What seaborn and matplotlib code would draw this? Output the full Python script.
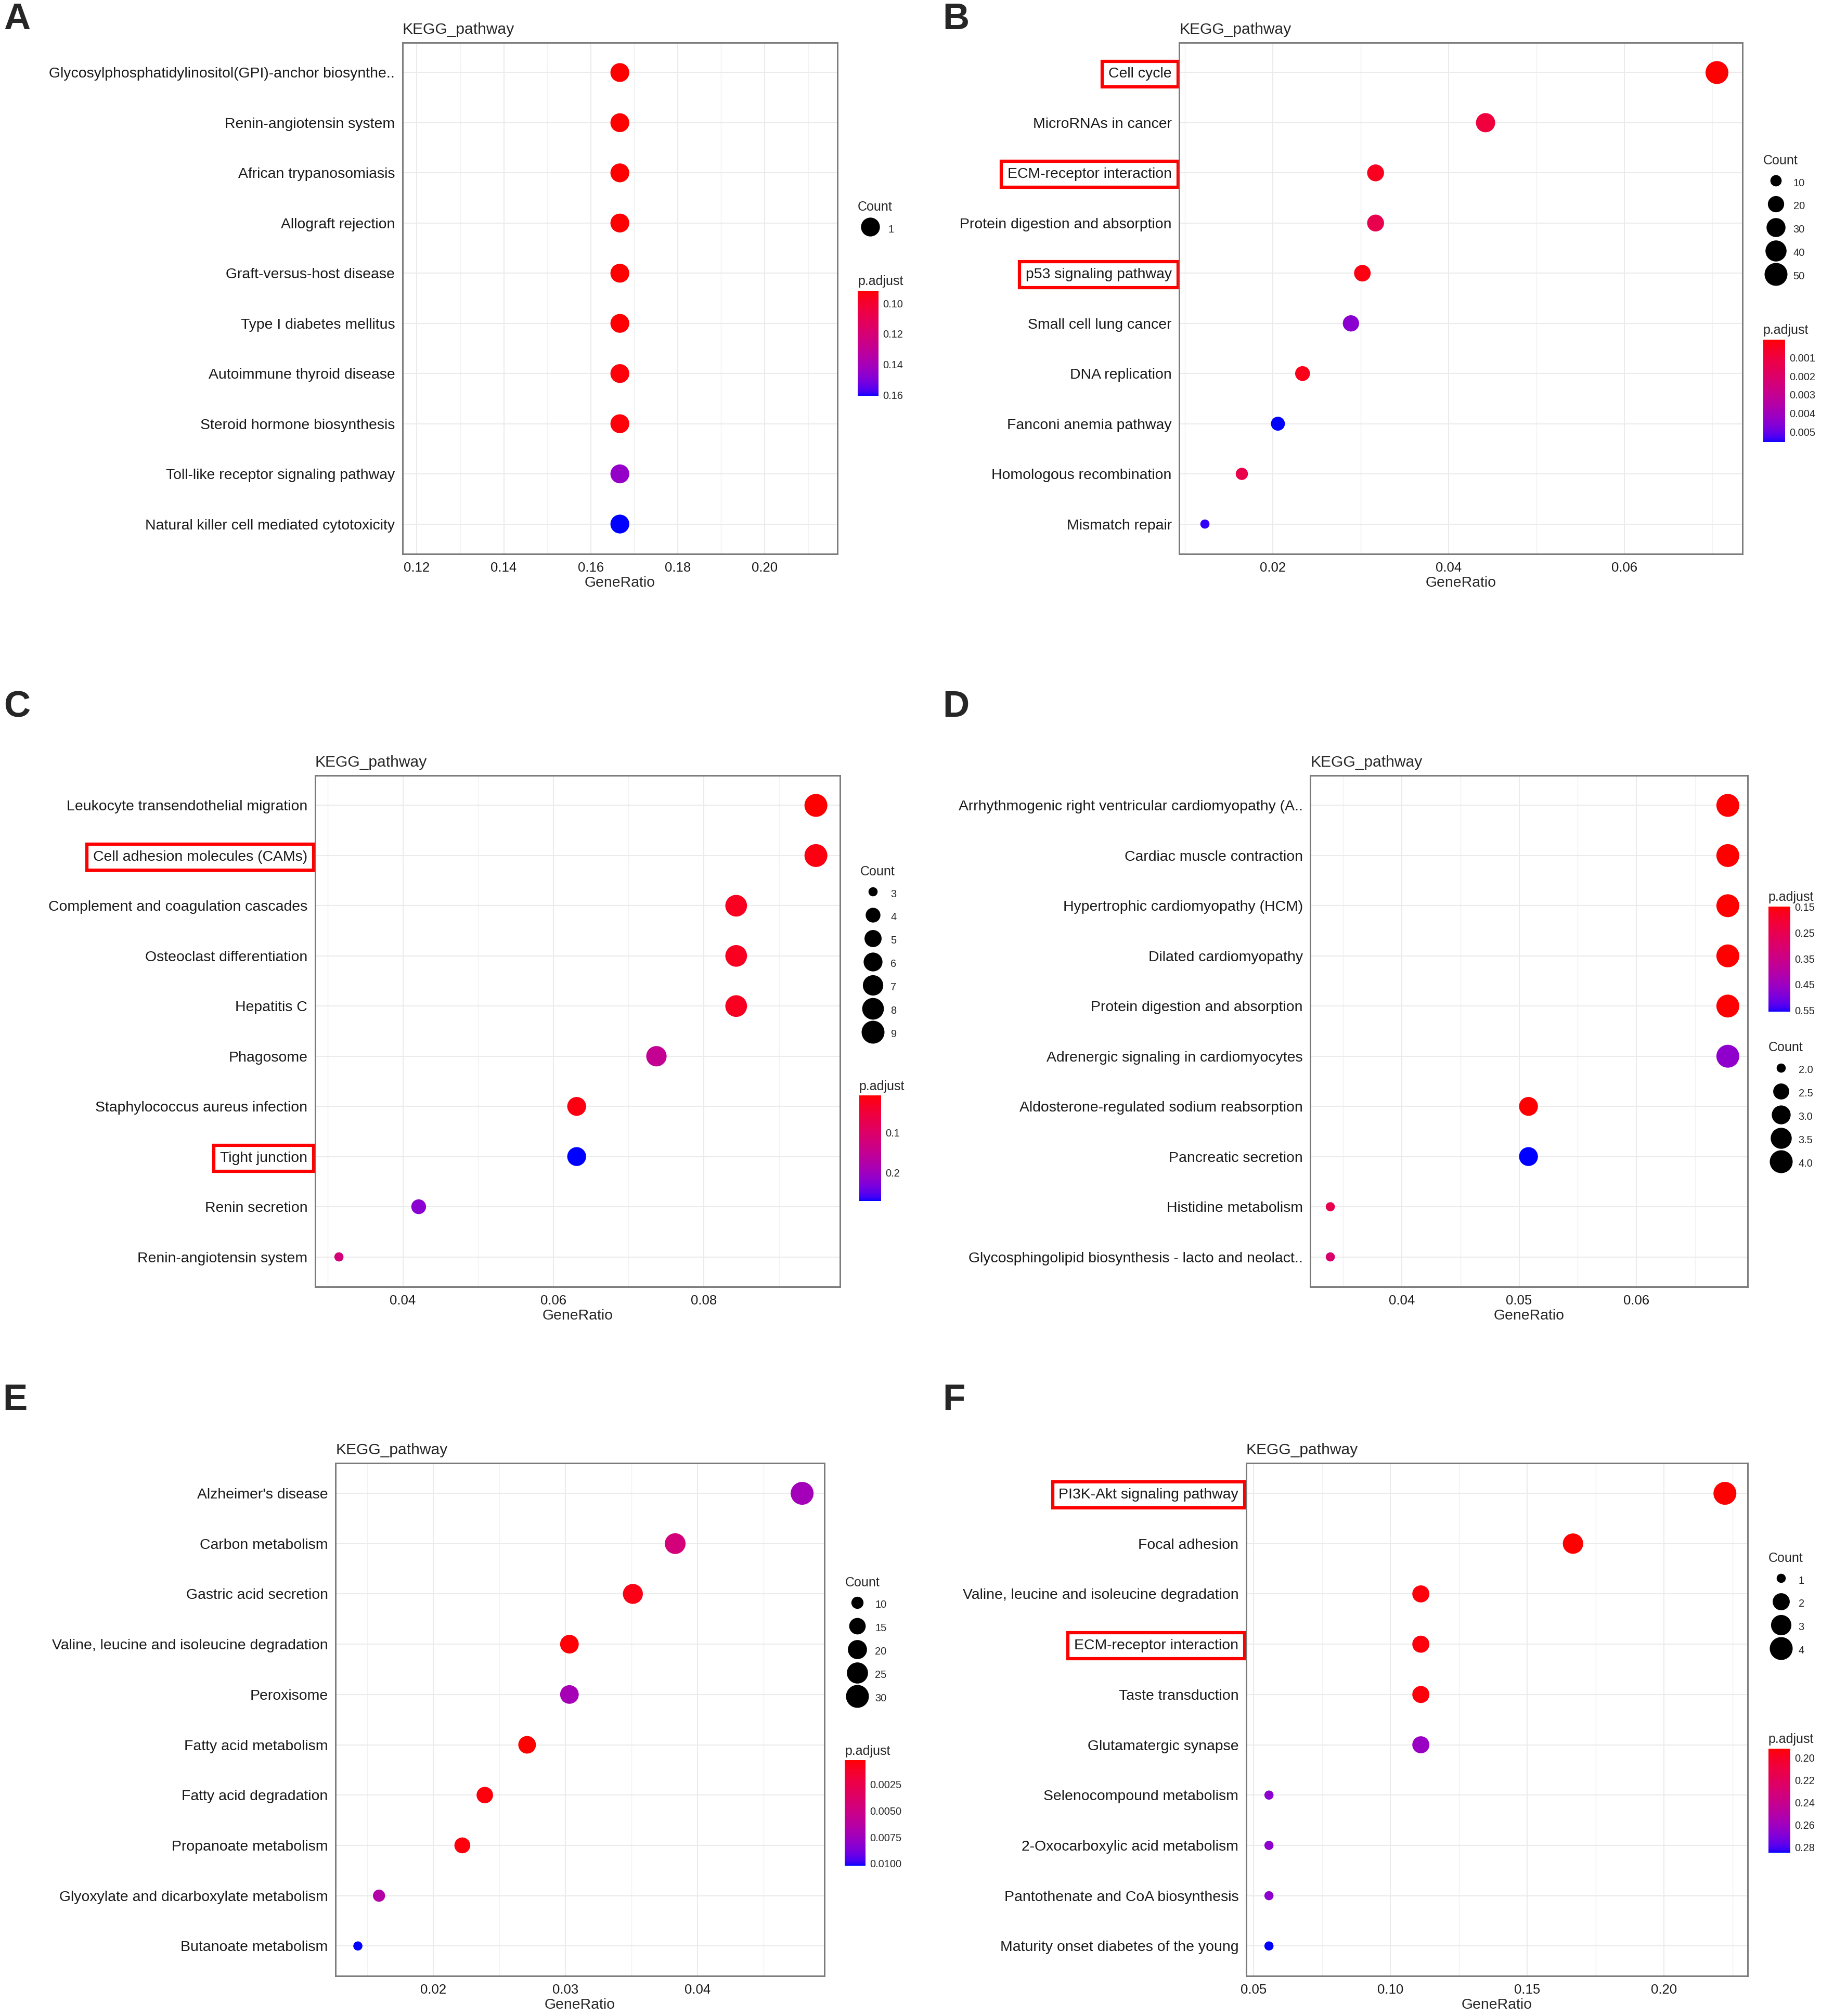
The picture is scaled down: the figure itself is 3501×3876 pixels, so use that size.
import numpy as np
import pandas as pd
import matplotlib
matplotlib.use("Agg")
import matplotlib.pyplot as plt
import seaborn as sns
from matplotlib.colors import ListedColormap, Normalize
from matplotlib.lines import Line2D
from matplotlib.cm import ScalarMappable
from matplotlib.ticker import MultipleLocator

# ---------------- data ----------------
terms_a = ["Glycosylphosphatidylinositol(GPI)-anchor biosynthe..", "Renin-angiotensin system",
           "African trypanosomiasis", "Allograft rejection", "Graft-versus-host disease",
           "Type I diabetes mellitus", "Autoimmune thyroid disease", "Steroid hormone biosynthesis",
           "Toll-like receptor signaling pathway", "Natural killer cell mediated cytotoxicity"]
ratio_a = [0.1667, 0.1667, 0.1667, 0.1667, 0.1667, 0.1667, 0.1667, 0.1667, 0.1667, 0.1667]
count_a = [1, 1, 1, 1, 1, 1, 1, 1, 1, 1]
padj_a = [0.0916, 0.0916, 0.0918, 0.0918, 0.0918, 0.0920, 0.0928, 0.0928, 0.1450, 0.1608]

terms_b = ["Cell cycle", "MicroRNAs in cancer", "ECM-receptor interaction",
           "Protein digestion and absorption", "p53 signaling pathway", "Small cell lung cancer",
           "DNA replication", "Fanconi anemia pathway", "Homologous recombination", "Mismatch repair"]
ratio_b = [0.0705, 0.0442, 0.0317, 0.0317, 0.0302, 0.0289, 0.0234, 0.0206, 0.0165, 0.0123]
count_b = [50, 31, 22, 22, 21, 20, 16, 14, 11, 9]
padj_b = [0.00003, 0.0010, 0.0004, 0.0014, 0.0002, 0.0045, 0.0003, 0.00555, 0.0013, 0.0054]

terms_c = ["Leukocyte transendothelial migration", "Cell adhesion molecules (CAMs)",
           "Complement and coagulation cascades", "Osteoclast differentiation", "Hepatitis C",
           "Phagosome", "Staphylococcus aureus infection", "Tight junction", "Renin secretion",
           "Renin-angiotensin system"]
ratio_c = [0.0949, 0.0949, 0.0843, 0.0843, 0.0843, 0.0737, 0.0631, 0.0631, 0.0421, 0.0315]
count_c = [9, 9, 8, 8, 8, 7, 6, 6, 4, 3]
padj_c = [0.0065, 0.015, 0.025, 0.025, 0.025, 0.150, 0.015, 0.271, 0.220, 0.120]

terms_d = ["Arrhythmogenic right ventricular cardiomyopathy (A..", "Cardiac muscle contraction",
           "Hypertrophic cardiomyopathy (HCM)", "Dilated cardiomyopathy",
           "Protein digestion and absorption", "Adrenergic signaling in cardiomyocytes",
           "Aldosterone-regulated sodium reabsorption", "Pancreatic secretion",
           "Histidine metabolism", "Glycosphingolipid biosynthesis - lacto and neolact.."]
ratio_d = [0.0678, 0.0678, 0.0678, 0.0678, 0.0678, 0.0678, 0.0508, 0.0508, 0.0339, 0.0339]
count_d = [4, 4, 4, 4, 4, 4, 3, 3, 2, 2]
padj_d = [0.148, 0.148, 0.149, 0.149, 0.150, 0.470, 0.150, 0.556, 0.250, 0.300]

terms_e = ["Alzheimer's disease", "Carbon metabolism", "Gastric acid secretion",
           "Valine, leucine and isoleucine degradation", "Peroxisome", "Fatty acid metabolism",
           "Fatty acid degradation", "Propanoate metabolism",
           "Glyoxylate and dicarboxylate metabolism", "Butanoate metabolism"]
ratio_e = [0.0479, 0.0383, 0.0351, 0.0303, 0.0303, 0.0271, 0.0239, 0.0222, 0.0159, 0.0143]
count_e = [30, 24, 22, 19, 19, 17, 15, 14, 10, 9]
padj_e = [0.0073, 0.0045, 0.0006, 0.0003, 0.0072, 0.0002, 0.0004, 0.0004, 0.0065, 0.0102]

terms_f = ["PI3K-Akt signaling pathway", "Focal adhesion",
           "Valine, leucine and isoleucine degradation", "ECM-receptor interaction",
           "Taste transduction", "Glutamatergic synapse", "Selenocompound metabolism",
           "2-Oxocarboxylic acid metabolism", "Pantothenate and CoA biosynthesis",
           "Maturity onset diabetes of the young"]
ratio_f = [0.2222, 0.1667, 0.1111, 0.1111, 0.1111, 0.1111, 0.0556, 0.0556, 0.0556, 0.0556]
count_f = [4, 3, 2, 2, 2, 2, 1, 1, 1, 1]
padj_f = [0.192, 0.192, 0.194, 0.194, 0.194, 0.262, 0.266, 0.266, 0.266, 0.285]

count_breaks = {"A": [1], "B": [10, 20, 30, 40, 50], "C": [3, 4, 5, 6, 7, 8, 9],
                "D": [2.0, 2.5, 3.0, 3.5, 4.0], "E": [10, 15, 20, 25, 30], "F": [1, 2, 3, 4]}
padj_ticks = {"A": ([0.10, 0.12, 0.14, 0.16], "%.2f"),
              "B": ([0.001, 0.002, 0.003, 0.004, 0.005], "%.3f"),
              "C": ([0.1, 0.2], "%.1f"),
              "D": ([0.15, 0.25, 0.35, 0.45, 0.55], "%.2f"),
              "E": ([0.0025, 0.0050, 0.0075, 0.0100], "%.4f"),
              "F": ([0.20, 0.22, 0.24, 0.26, 0.28], "%.2f")}
boxed = {"B": ["Cell cycle", "ECM-receptor interaction", "p53 signaling pathway"],
         "C": ["Cell adhesion molecules (CAMs)", "Tight junction"],
         "F": ["PI3K-Akt signaling pathway", "ECM-receptor interaction"]}


# ---------------- helpers ----------------
def lab_gradient(c0, c1, n=256):
    # ggplot-like red -> blue gradient interpolated in CIE Lab
    M = np.array([[0.4124, 0.3576, 0.1805], [0.2126, 0.7152, 0.0722], [0.0193, 0.1192, 0.9505]])
    white = np.array([0.95047, 1.0, 1.08883])

    def to_lab(rgb):
        rgb = np.asarray(rgb, float)
        lin = np.where(rgb <= 0.04045, rgb / 12.92, ((rgb + 0.055) / 1.055) ** 2.4)
        xyz = M @ lin / white
        f = np.where(xyz > 0.008856, np.cbrt(xyz), 7.787 * xyz + 16 / 116)
        return np.array([116 * f[1] - 16, 500 * (f[0] - f[1]), 200 * (f[1] - f[2])])

    def to_rgb(lab):
        fy = (lab[0] + 16) / 116
        f = np.array([fy + lab[1] / 500, fy, fy - lab[2] / 200])
        xyz = np.where(f ** 3 > 0.008856, f ** 3, (f - 16 / 116) / 7.787) * white
        lin = np.clip(np.linalg.solve(M, xyz), 0, None)
        rgb = np.where(lin <= 0.0031308, 12.92 * lin, 1.055 * lin ** (1 / 2.4) - 0.055)
        return np.clip(rgb, 0, 1)

    l0, l1 = to_lab(c0), to_lab(c1)
    return ListedColormap([to_rgb(l0 + (l1 - l0) * t) for t in np.linspace(0, 1, n)])


cmap = lab_gradient([1, 0, 0], [0, 0, 1])


def dot_diam(c, cmin, cmax):
    # clusterProfiler dotplot: scale_size(range = c(3, 8)), area scaling
    t = 0.5 if cmax == cmin else (c - cmin) / (cmax - cmin)
    s = 3 + 5 * np.sqrt(t)
    return (s * 2.845 + 0.94) * 0.4456


W, H = 1416.0, 1568.0


def frect(x0, y0, x1, y1):
    return [x0 / W, 1 - y1 / H, (x1 - x0) / W, (y1 - y0) / H]


panels = [
    dict(key="A", terms=terms_a, ratio=ratio_a, count=count_a, padj=padj_a, step=0.02,
         rect=(313, 33, 651, 431), letter=(3, 2), cnt=(667, 156), bar=(667, 226, 683, 308)),
    dict(key="B", terms=terms_b, ratio=ratio_b, count=count_b, padj=padj_b, step=0.02,
         rect=(917, 33, 1355, 431), letter=(733, 2), cnt=(1371, 120), bar=(1371, 264, 1388, 344)),
    dict(key="C", terms=terms_c, ratio=ratio_c, count=count_c, padj=padj_c, step=0.02,
         rect=(245, 603, 653, 1001), letter=(3, 537), cnt=(669, 673), bar=(668, 852, 685, 934)),
    dict(key="D", terms=terms_d, ratio=ratio_d, count=count_d, padj=padj_d, step=0.01,
         rect=(1019, 603, 1359, 1001), letter=(733, 537), cnt=(1375, 810), bar=(1375, 705, 1392, 787)),
    dict(key="E", terms=terms_e, ratio=ratio_e, count=count_e, padj=padj_e, step=0.01,
         rect=(261, 1138, 641, 1537), letter=(2, 1076), cnt=(657, 1226), bar=(657, 1369, 673, 1451)),
    dict(key="F", terms=terms_f, ratio=ratio_f, count=count_f, padj=padj_f, step=0.05,
         rect=(969, 1138, 1359, 1537), letter=(733, 1076), cnt=(1375, 1207), bar=(1375, 1360, 1392, 1441)),
]

sns.set_style("white")
plt.rcParams["font.family"] = ["Liberation Sans", "DejaVu Sans"]

fig = plt.figure(figsize=(3501 / 300, 3876 / 300), dpi=300)
grey = "#7a7a7a"

for p in panels:
    df = pd.DataFrame({"Description": p["terms"], "GeneRatio": p["ratio"],
                       "Count": p["count"], "p.adjust": p["padj"]})
    cmin, cmax = df["Count"].min(), df["Count"].max()
    sizes = {c: dot_diam(c, cmin, cmax) ** 2 for c in df["Count"].unique()}
    vmin, vmax = df["p.adjust"].min(), df["p.adjust"].max()

    ax = fig.add_axes(frect(*p["rect"]))
    sns.scatterplot(data=df, x="GeneRatio", y="Description", hue="p.adjust", size="Count",
                    palette=cmap, hue_norm=(vmin, vmax), sizes=sizes, linewidth=0,
                    legend=False, ax=ax, zorder=3)

    lo, hi = df["GeneRatio"].min(), df["GeneRatio"].max()
    pad = 0.05 * (hi - lo) if hi > lo else 0.05
    ax.set_xlim(lo - pad, hi + pad)
    ax.set_ylim(len(df) - 0.4, -0.6)
    ax.xaxis.set_major_locator(MultipleLocator(p["step"]))
    ax.xaxis.set_minor_locator(MultipleLocator(p["step"] / 2))
    ax.grid(True, which="major", color="#ebebeb", linewidth=0.5, zorder=0)
    ax.grid(True, which="minor", axis="x", color="#f2f2f2", linewidth=0.35, zorder=0)
    ax.set_axisbelow(True)
    for sp in ax.spines.values():
        sp.set_color(grey)
        sp.set_linewidth(0.7)
    ax.tick_params(axis="both", which="major", length=2, width=0.5, color=grey,
                   labelsize=6.8, labelcolor="#1a1a1a", pad=1.5)
    ax.tick_params(axis="x", labelsize=6.2)
    ax.tick_params(which="minor", length=0)
    ax.set_ylabel("")
    ax.set_xlabel("GeneRatio", fontsize=6.8, labelpad=1)
    ax.set_title("KEGG_pathway", loc="left", fontsize=7.2, pad=4)

    for lab in ax.get_yticklabels():
        if lab.get_text() in boxed.get(p["key"], []):
            lab.set_bbox(dict(boxstyle="square,pad=0.42", facecolor="none",
                              edgecolor="#ff0000", linewidth=1.5))

    # panel letter
    fig.text(p["letter"][0] / W, 1 - p["letter"][1] / H, p["key"], fontsize=17,
             fontweight="bold", va="top", ha="left")

    # Count legend
    handles = [Line2D([], [], marker="o", linestyle="", color="black", markeredgewidth=0,
                      markersize=dot_diam(b, cmin, cmax)) for b in count_breaks[p["key"]]]
    labels = [("%.1f" % b) if p["key"] == "D" else str(b) for b in count_breaks[p["key"]]]
    ax.legend(handles, labels, title="Count", loc="upper left",
              bbox_to_anchor=(p["cnt"][0] / W, 1 - p["cnt"][1] / H),
              bbox_transform=fig.transFigure, frameon=False, alignment="left",
              borderpad=0, borderaxespad=0, fontsize=4.8, title_fontsize=6,
              handlelength=2.4, handleheight=1.85, labelspacing=0.8,
              handletextpad=0.5)

    # p.adjust colourbar (reversed, as in clusterProfiler)
    cax = fig.add_axes(frect(*p["bar"]))
    cb = fig.colorbar(ScalarMappable(norm=Normalize(vmin, vmax), cmap=cmap), cax=cax)
    cb.outline.set_visible(False)
    ticks, fmt = padj_ticks[p["key"]]
    cb.set_ticks(ticks)
    cb.set_ticklabels([fmt % t for t in ticks])
    cax.invert_yaxis()
    cax.yaxis.set_ticks_position("both")
    cax.tick_params(axis="y", direction="in", length=2, width=0.5, color="white",
                    labelsize=4.8, pad=2)
    cax.yaxis.set_label_position("right")
    cax.set_title("p.adjust", loc="left", fontsize=6, pad=2.5)

fig.savefig("out.png", dpi=300, facecolor="white")
